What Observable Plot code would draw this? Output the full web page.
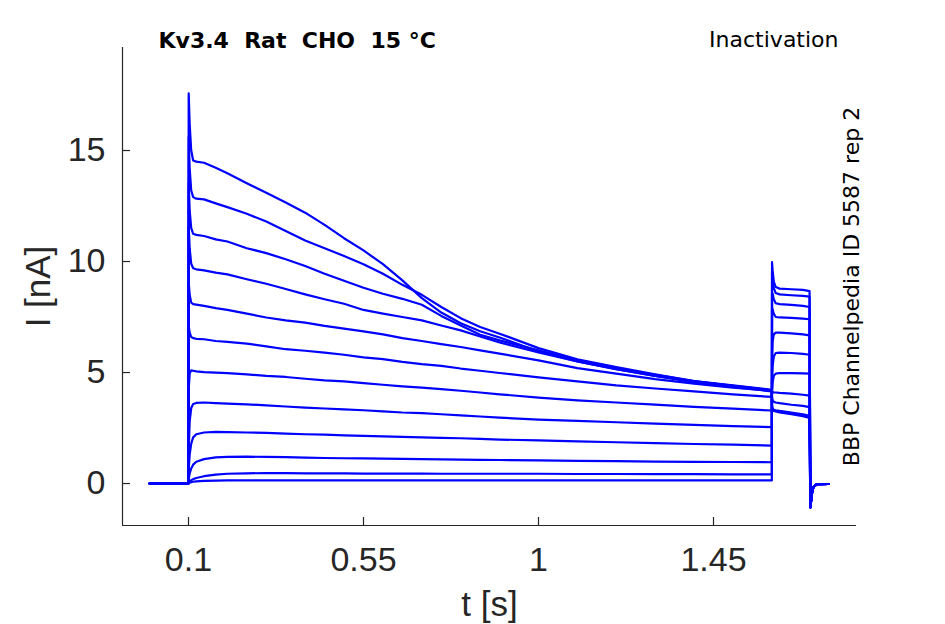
<!DOCTYPE html>
<html><head><meta charset="utf-8">
<script src="https://cdn.jsdelivr.net/npm/d3@7"></script>
<script src="https://cdn.jsdelivr.net/npm/@observablehq/plot@0.6"></script>
<style>
body{margin:0;background:#fff;}
svg text{white-space:pre;}
</style></head><body><div id="chart"></div>
<script>
// Sample times (s), shared by every sweep
const times = [0, 0.0995, 0.1005, 0.103, 0.107, 0.112, 0.12, 0.14, 0.17, 0.2, 0.25, 0.3, 0.35, 0.4, 0.45, 0.5, 0.55, 0.6, 0.65, 0.7, 0.75, 0.8, 0.85, 0.9, 1.0, 1.1, 1.2, 1.3, 1.4, 1.5, 1.6,
  1.6005, 1.602, 1.605, 1.61, 1.62, 1.65, 1.68, 1.697,
  1.699, 1.703, 1.707, 1.716, 1.746];

// Currents (nA) per sweep
const trace01 = [0, 0, 17.57, 16.2, 15.0, 14.55, 14.5, 14.45, 14.22, 13.98, 13.53, 13.1, 12.66, 12.2, 11.65, 11.05, 10.5, 9.88, 9.15, 8.35, 7.7, 7.22, 6.86, 6.58, 5.95, 5.5, 5.15, 4.85, 4.55, 4.35, 4.15,
  3.4, 3.32, 3.27, 3.25, 3.2, 3.12, 3.03, 2.96, -1.07, -0.45, -0.15, -0.03, -0.02];
const trace02 = [0, 0, 15.6, 14.2, 13.2, 12.9, 12.83, 12.8, 12.62, 12.45, 12.15, 11.8, 11.38, 10.95, 10.6, 10.25, 9.88, 9.45, 8.95, 8.5, 7.95, 7.45, 7.05, 6.75, 6.1, 5.6, 5.25, 4.92, 4.62, 4.4, 4.2,
  3.45, 3.35, 3.3, 3.28, 3.24, 3.16, 3.08, 3.0, -1.07, -0.45, -0.15, -0.03, -0.02];
const trace03 = [0, 0, 13.5, 12.3, 11.5, 11.25, 11.2, 11.15, 11.0, 10.9, 10.6, 10.38, 10.1, 9.8, 9.45, 9.13, 8.82, 8.55, 8.32, 8.05, 7.55, 7.12, 6.7, 6.45, 6.0, 5.55, 5.2, 4.9, 4.62, 4.42, 4.22,
  3.5, 3.38, 3.32, 3.3, 3.27, 3.2, 3.12, 3.05, -1.07, -0.45, -0.15, -0.03, -0.02];
const trace04 = [0, 0, 11.6, 10.6, 9.9, 9.7, 9.65, 9.6, 9.5, 9.42, 9.2, 9.0, 8.76, 8.52, 8.3, 8.1, 7.82, 7.65, 7.5, 7.35, 7.12, 6.9, 6.62, 6.35, 5.9, 5.5, 5.15, 4.85, 4.6, 4.4, 4.2,
  3.9, 3.75, 3.68, 3.65, 3.62, 3.55, 3.5, 3.44, -1.07, -0.45, -0.15, -0.03, -0.02];
const trace05 = [0, 0, 9.1, 8.5, 8.15, 8.08, 8.06, 8.0, 7.9, 7.82, 7.65, 7.48, 7.35, 7.25, 7.1, 6.98, 6.85, 6.72, 6.55, 6.42, 6.28, 6.15, 6.0, 5.85, 5.55, 5.2, 4.95, 4.7, 4.5, 4.32, 4.18,
  4.15, 4.12, 4.1, 4.1, 4.08, 4.05, 4.0, 3.96, -1.07, -0.45, -0.15, -0.03, -0.02];
const trace06 = [0, 0, 7.1, 6.8, 6.6, 6.55, 6.52, 6.5, 6.42, 6.38, 6.3, 6.18, 6.05, 5.98, 5.9, 5.8, 5.68, 5.6, 5.48, 5.38, 5.3, 5.18, 5.08, 4.98, 4.78, 4.6, 4.42, 4.28, 4.15, 4.02, 3.9,
  4.1, 4.55, 4.85, 4.95, 4.98, 4.97, 4.96, 4.95, -1.07, -0.45, -0.15, -0.03, -0.02];
const trace07 = [0, 0, 4.2, 4.95, 5.1, 5.08, 5.05, 5.02, 5.0, 4.97, 4.92, 4.85, 4.8, 4.72, 4.65, 4.6, 4.52, 4.45, 4.38, 4.32, 4.25, 4.18, 4.1, 4.02, 3.87, 3.75, 3.65, 3.55, 3.45, 3.37, 3.29,
  4.6, 5.3, 5.72, 5.88, 5.9, 5.88, 5.84, 5.8, -1.07, -0.45, -0.15, -0.03, -0.02];
const trace08 = [0, 0, 1.5, 2.8, 3.4, 3.58, 3.63, 3.65, 3.62, 3.6, 3.57, 3.52, 3.47, 3.42, 3.38, 3.34, 3.3, 3.25, 3.2, 3.17, 3.12, 3.07, 3.02, 2.97, 2.88, 2.82, 2.76, 2.7, 2.64, 2.59, 2.54,
  5.6, 6.4, 6.72, 6.8, 6.8, 6.76, 6.72, 6.67, -1.07, -0.45, -0.15, -0.03, -0.02];
const trace09 = [0, 0, 0.6, 1.3, 1.8, 2.08, 2.22, 2.3, 2.33, 2.32, 2.3, 2.28, 2.25, 2.22, 2.2, 2.17, 2.15, 2.12, 2.1, 2.08, 2.06, 2.04, 2.01, 1.98, 1.94, 1.9, 1.86, 1.82, 1.78, 1.75, 1.71,
  7.8, 7.85, 7.65, 7.5, 7.48, 7.46, 7.43, 7.4, -1.07, -0.45, -0.15, -0.03, -0.02];
const trace10 = [0, 0, 0.2, 0.45, 0.68, 0.85, 0.98, 1.1, 1.18, 1.2, 1.21, 1.2, 1.19, 1.17, 1.15, 1.14, 1.13, 1.12, 1.11, 1.1, 1.09, 1.08, 1.07, 1.06, 1.04, 1.02, 1.01, 0.99, 0.98, 0.97, 0.96,
  8.6, 8.55, 8.3, 8.12, 8.08, 8.05, 8.0, 7.95, -1.07, -0.45, -0.15, -0.03, -0.02];
const trace11 = [0, 0, 0.05, 0.1, 0.15, 0.2, 0.25, 0.33, 0.4, 0.44, 0.46, 0.47, 0.47, 0.46, 0.46, 0.46, 0.45, 0.45, 0.45, 0.45, 0.44, 0.44, 0.44, 0.44, 0.44, 0.43, 0.43, 0.42, 0.42, 0.41, 0.41,
  9.5, 9.2, 8.8, 8.58, 8.52, 8.48, 8.45, 8.42, -1.07, -0.45, -0.15, -0.03, -0.02];
const trace12 = [0, 0, 0.02, 0.04, 0.06, 0.08, 0.1, 0.12, 0.13, 0.14, 0.14, 0.14, 0.14, 0.14, 0.14, 0.14, 0.14, 0.14, 0.14, 0.14, 0.14, 0.14, 0.14, 0.14, 0.14, 0.14, 0.14, 0.14, 0.14, 0.14, 0.14,
  9.97, 9.6, 9.1, 8.85, 8.78, 8.75, 8.72, 8.67, -1.07, -0.45, -0.15, -0.03, -0.02];

const xTicks = [0.1, 0.55, 1, 1.45];
const yTicks = [0, 5, 10, 15];
const xDomain = [-0.0697, 1.8177];
const yDomain = [-1.89, 19.64];
const titleText = "Kv3.4  Rat  CHO  15 °C";
const protocolText = "Inactivation";
const sourceText = "BBP Channelpedia ID 5587 rep 2";
const xLabel = "t [s]";
const yLabel = "I [nA]";

const sweeps = [trace01, trace02, trace03, trace04, trace05, trace06, trace07, trace08, trace09, trace10, trace11, trace12];
const rows = sweeps.flatMap((vals, k) => vals.map((v, i) => ({trace: k, t: times[i], v})));

const axisColor = "#262626";
const tickFont = "Liberation Sans, Arial, sans-serif";

const chart = Plot.plot({
  width: 945, height: 624,
  marginLeft: 122, marginRight: 89, marginTop: 47, marginBottom: 99,
  x: {domain: xDomain},
  y: {domain: yDomain},
  style: {background: "white", color: axisColor},
  marks: [
    Plot.line(rows, {x: "t", y: "v", z: "trace", stroke: "#0000ff", strokeWidth: 2.2, curve: "linear"}),
    Plot.ruleX([xDomain[0]], {stroke: axisColor, strokeWidth: 1.2}),
    Plot.ruleY([yDomain[0]], {stroke: axisColor, strokeWidth: 1.2}),
    Plot.axisX({ticks: xTicks, tickSize: 8, dy: -8, text: null, label: null, stroke: axisColor, strokeWidth: 1.2}),
    Plot.axisY({ticks: yTicks, tickSize: 8, dx: 8, text: null, label: null, stroke: axisColor, strokeWidth: 1.2}),
    Plot.axisX({ticks: xTicks, tickSize: 0, tickPadding: 21, label: null, fontSize: 34, fontFamily: tickFont, fill: axisColor, tickFormat: d => String(d)}),
    Plot.axisY({ticks: yTicks, tickSize: 0, tickPadding: 17, label: null, fontSize: 34, fontFamily: tickFont, fill: axisColor, tickFormat: d => String(d)}),
    Plot.text([xLabel], {frameAnchor: "bottom", dy: 79, fontSize: 35, fontFamily: tickFont, fill: axisColor, textAnchor: "middle", lineAnchor: "middle"}),
    Plot.text([yLabel], {frameAnchor: "left", dx: -84, rotate: -90, fontSize: 35, fontFamily: tickFont, fill: axisColor, textAnchor: "middle", lineAnchor: "middle"}),
    Plot.text([titleText], {frameAnchor: "top-left", dx: 36, dy: -7, textAnchor: "start", lineAnchor: "middle", fontSize: 22, fontWeight: "bold", fontFamily: "DejaVu Sans", fill: "black"}),
    Plot.text([protocolText], {frameAnchor: "top-right", dx: -18, dy: -8, textAnchor: "end", lineAnchor: "middle", fontSize: 22, fontFamily: "DejaVu Sans", fill: "black"}),
    Plot.text([sourceText], {frameAnchor: "right", dx: -5, rotate: -90, textAnchor: "middle", lineAnchor: "middle", fontSize: 22, fontFamily: "DejaVu Sans", fill: "black"})
  ]
});
document.getElementById("chart").appendChild(chart);
</script></body></html>
